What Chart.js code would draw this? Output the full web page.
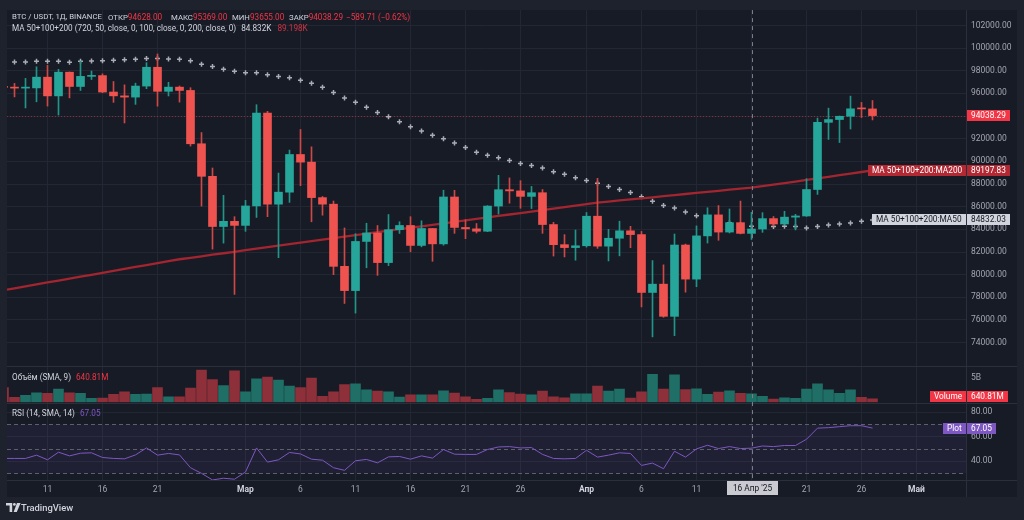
<!DOCTYPE html>
<html><head><meta charset="utf-8">
<script src="https://cdn.jsdelivr.net/npm/chart.js@4.4.1/dist/chart.umd.min.js"></script>
<style>
html,body{margin:0;padding:0;background:#1e222d;width:1024px;height:520px;overflow:hidden;}
#wrap{position:relative;width:1024px;height:520px;}
canvas{position:absolute;left:0;top:0;}
.t{position:absolute;font-family:Roboto,'Liberation Sans',sans-serif;font-size:8.2px;line-height:10px;white-space:nowrap;color:#d1d4dc;}
.s{font-size:7.8px}
.r{color:#f23645}
.m{color:#cf3340}
.p{color:#7e57c2}
.v{font-size:8.2px}
</style></head><body>
<div id="wrap"><canvas id="c" width="1024" height="520"></canvas>
<div class="t s" style="left:12px;top:12px">BTC / USDT, 1Д, BINANCE</div>
<div class="t s" style="left:108px;top:12px">ОТКР<span class="r v">94628.00</span></div>
<div class="t s" style="left:171px;top:12px">МАКС<span class="r v">95369.00</span></div>
<div class="t s" style="left:232px;top:12px">МИН<span class="r v">93655.00</span></div>
<div class="t s" style="left:289px;top:12px">ЗАКР<span class="r v">94038.29</span></div>
<div class="t r" style="left:346px;top:12px">−589.71 (−0.62%)</div>
<div class="t" style="left:12px;top:23px">MA 50+100+200 (720, 50, close, 0, 100, close, 0, 200, close, 0)<span style="margin-left:5px">84.832K</span><span class="m" style="margin-left:6px">89.198K</span></div>
<div class="t" style="left:12px;top:372px">Объём (SMA, 9)<span class="r" style="margin-left:5px">640.81M</span></div>
<div class="t" style="left:12px;top:408px">RSI (14, SMA, 14)<span class="p" style="margin-left:5px">67.05</span></div>
<svg style="position:absolute;left:6px;top:503px" width="15" height="10" viewBox="0 0 15 10"><path d="M0 0H6.2V9H3.6V2.6H0Z" fill="#d1d4dc"/><circle cx="8.4" cy="1.4" r="1.4" fill="#d1d4dc"/><path d="M11 0H14.6L10.8 9H7.6Z" fill="#d1d4dc"/></svg>
<div class="t" style="left:21px;top:503px;font-size:9.4px;font-weight:500">TradingView</div>
</div>
<script>
const firstDay = '2025-02-07';
const open  = [96550,96530,96465,96482,97430,95778,97869,96608,97500,97569,96118,95780,95671,96644,98305,96181,96551,96258,91552,88680,84250,84708,84349,86064,94270,86220,87281,90606,89931,86801,86222,80734,78595,82932,83680,81067,83969,84343,82580,84075,82718,86855,84167,84044,83832,86054,87498,87392,86909,87232,84424,82648,82390,82550,85159,82516,83214,83869,83538,78430,79163,76322,82615,79607,83423,85276,83760,84591,83643,84030,84947,84474,85077,85179,87516,93442,93691,93980,94638,94628];
const high  = [100137,96880,97323,98345,98478,98119,97888,98826,97972,97725,97046,96753,96899,98711,99475,96980,96650,96500,92540,89414,87000,85120,86558,95000,94416,88967,90998,92811,91283,86897,86500,84123,83617,84539,84336,85310,84672,85117,84756,84075,87453,87443,84850,84513,86094,88765,88540,88292,87786,87515,84624,83534,83943,85487,88500,83998,84720,84266,83817,81243,80867,83588,82700,84300,85905,86100,85799,86496,85500,85470,85132,85595,85320,88465,93817,94696,94000,95758,95199,95369];
const low   = [95620,95688,94713,95256,94876,94088,95603,96253,97223,96055,95205,93388,95029,96415,94871,95770,95227,91350,86050,82256,82786,78258,83824,85050,85117,81500,86379,87853,84667,85248,80000,77459,76606,80607,79939,80797,83639,82017,82457,81179,82600,83647,83175,83674,83794,85345,86310,85861,85837,83646,81644,81565,81279,82429,82320,81211,81659,82379,77153,74508,76239,74620,78456,78936,82792,83034,83678,83600,83111,83736,84303,84364,83949,85144,87084,91935,91660,92855,93870,93655];
const close = [96530,96465,96482,97430,95778,97869,96608,97500,97569,96118,95780,95671,96644,98305,96181,96551,96258,91552,88680,84250,84708,84349,86064,94270,86220,87281,90606,89931,86801,86222,80734,78595,82932,83680,81067,83969,84343,82580,84075,82718,86855,84167,84044,83832,86054,87498,87392,86909,87232,84424,82648,82390,82550,85159,82516,83214,83869,83538,78430,79163,76322,82615,79607,83423,85276,83760,84591,83643,84030,84947,84474,85077,85179,87516,93442,93691,93980,94638,94628,94038.29];
const volumeM = [3042,958,1375,1938,1792,2708,1938,1792,750,833,1583,2146,1583,1667,3042,1104,1104,2917,6729,4708,3458,6521,2146,4854,5208,4583,3333,3042,5000,1167,2146,3667,3813,2563,2292,2146,1042,1521,1521,1521,2354,1875,1104,542,750,2563,2000,1667,1521,2292,1104,896,1729,1729,3333,2292,2708,833,2146,5833,2708,5688,2625,2771,1583,2083,2354,1792,1729,1167,625,896,750,2708,3813,2563,1792,2563,958,640.81];
const ma50 = [98760,98773,98773,98826,98826,98826,98738,98826,98861,98887,98913,98975,99001,99088,99088,99036,99001,98887,98563,98362,98126,97951,97811,97811,97636,97487,97374,97164,96902,96551,96087,95589,95212,94775,94311,93926,93489,93052,92675,92299,92002,91626,91215,90795,90549,90313,90077,89814,89639,89412,89088,88852,88563,88301,88064,87776,87513,87251,86884,86490,86114,85878,85528,85195,84976,84758,84583,84425,84277,84250,84250,84277,84259,84128,84250,84390,84477,84565,84714,84832.03];
const ma200 = [78630,78800,78970,79140,79310,79480,79650,79820,79990,80160,80330,80510,80680,80850,81020,81190,81360,81490,81620,81760,81890,82020,82160,82290,82430,82560,82690,82830,82960,83090,83230,83360,83490,83620,83750,83880,84010,84140,84270,84400,84530,84660,84790,84920,85050,85180,85310,85440,85570,85700,85830,85960,86090,86220,86350,86450,86550,86640,86740,86830,86930,87020,87120,87210,87310,87400,87500,87590,87690,87820,87950,88080,88220,88360,88500,88640,88780,88920,89060,89197.83];
const rsi = [42.2,42.2,42.2,44.9,41.1,47.3,44.3,46.5,46.8,43.0,42.2,41.9,45.1,50.8,44.9,46.3,45.1,34.6,30.0,24.6,26.0,25.2,31.1,50.8,39.2,41.1,47.1,45.9,41.6,40.8,34.6,32.5,40.3,41.4,38.6,43.5,43.8,41.6,44.3,42.5,49.5,45.7,45.5,45.5,49.5,51.6,51.9,50.8,51.1,45.5,42.2,41.9,42.2,48.9,43.3,44.9,46.8,46.3,36.5,38.4,33.8,48.1,43.3,50.0,53.0,50.3,51.9,50.3,50.6,52.4,51.9,52.8,52.8,57.9,67.0,67.4,68.2,69.0,69.0,67.05];
const priceTicks = [74000,76000,78000,80000,82000,84000,86000,88000,90000,92000,94000,96000,98000,100000,102000];
const volTicks = [5000];
const rsiTicks = [40,60,80];
const rsiLevels = [70,50,30];
const xTickDates = ['2025-02-11','2025-02-16','2025-02-21','2025-03-01','2025-03-06','2025-03-11','2025-03-16','2025-03-21','2025-03-26','2025-04-01','2025-04-06','2025-04-11','2025-04-16','2025-04-21','2025-04-26','2025-05-01'];
const xTickLabels = ['11','16','21','Мар','6','11','16','21','26','Апр','6','11','16','21','26','Май'];
const monthLabels = ['Мар','Апр','Май'];
const crossDate = '2025-04-16';
const crossLabel = "16 Апр '25";

const UP = '#26a69a', DOWN = '#ef5350';
const GRID = '#232733', SEP = '#2b2f3b';
const FONT = "Roboto, 'Liberation Sans', sans-serif";
Chart.defaults.font.family = FONT;

function dayIndex(s){ return Math.round((Date.parse(s+'T00:00:00Z') - Date.parse(firstDay+'T00:00:00Z'))/86400000); }
const isUp = close.map((c,i)=> c >= open[i]);
const candleCol = isUp.map(u => u ? UP : DOWN);
const wickCol = isUp.map(u => u ? '#22958a' : '#cf4846');
const volCol = isUp.map(u => u ? '#1f6f66' : '#8d3039');
const lastIdx = close.length - 1;

function tagBox(ctx, left, yc, text, bg, fg, rightEdge){
  ctx.font = '8.3px ' + FONT;
  const w = Math.round(ctx.measureText(text).width + 8);
  const x = rightEdge ? left - w : left;
  ctx.fillStyle = bg; ctx.fillRect(x, Math.round(yc - 5.5), w, 11);
  ctx.fillStyle = fg; ctx.textBaseline = 'middle'; ctx.textAlign = 'left';
  ctx.fillText(text, x + 4, Math.round(yc - 5.5) + 5.8);
  return w;
}

const deco = {
  id: 'deco',
  beforeDraw(chart){
    const {ctx, chartArea: ca} = chart; const s = chart.scales;
    ctx.save();
    ctx.fillStyle = '#1e222d'; ctx.fillRect(0,0,chart.width,chart.height);
    ctx.fillStyle = '#171b26'; ctx.fillRect(ca.left, ca.top, s.yP.right - ca.left, s.x.bottom - ca.top);
    ctx.restore();
  },
  beforeDatasetsDraw(chart){
    const {ctx, chartArea: ca} = chart; const s = chart.scales;
    ctx.save();
    const y70 = s.yR.getPixelForValue(rsiLevels[0]), y30 = s.yR.getPixelForValue(rsiLevels[2]);
    ctx.fillStyle = 'rgba(126,87,194,0.09)';
    ctx.fillRect(ca.left, y70, ca.right - ca.left, y30 - y70);
    ctx.strokeStyle = '#5d606b'; ctx.lineWidth = 1; ctx.setLineDash([4,3]);
    rsiLevels.forEach(v => { const y = Math.round(s.yR.getPixelForValue(v)) + 0.5; ctx.beginPath(); ctx.moveTo(ca.left, y); ctx.lineTo(ca.right, y); ctx.stroke(); });
    const yc = Math.round(s.yP.getPixelForValue(close[lastIdx])) + 0.5;
    ctx.strokeStyle = 'rgba(242,54,69,0.5)'; ctx.setLineDash([1,2]);
    ctx.beginPath(); ctx.moveTo(ca.left, yc); ctx.lineTo(ca.right, yc); ctx.stroke();
    ctx.restore();
  },
  afterDraw(chart){
    const {ctx, chartArea: ca} = chart; const s = chart.scales;
    ctx.save();
    ctx.strokeStyle = SEP; ctx.lineWidth = 1; ctx.setLineDash([]);
    [s.yP.bottom, s.yV.bottom, s.yR.bottom].forEach(y => { const yy = Math.round(y) + 0.5; ctx.beginPath(); ctx.moveTo(ca.left, yy); ctx.lineTo(s.yP.right, yy); ctx.stroke(); });
    const xr = Math.round(ca.right) + 0.5;
    ctx.beginPath(); ctx.moveTo(xr, ca.top); ctx.lineTo(xr, s.x.bottom); ctx.stroke();
    const cx = Math.round(s.x.getPixelForValue(dayIndex(crossDate))) + 0.5;
    ctx.strokeStyle = '#7c7f89'; ctx.setLineDash([4,4]);
    ctx.beginPath(); ctx.moveTo(cx, ca.top); ctx.lineTo(cx, ca.bottom); ctx.stroke();
    ctx.setLineDash([]);
    ctx.font = '8.3px ' + FONT;
    const cw = Math.round(ctx.measureText(crossLabel).width + 12);
    ctx.fillStyle = '#c9cbd1'; ctx.fillRect(cx - cw/2, s.x.top + 1, cw, 14);
    ctx.fillStyle = '#131722'; ctx.textAlign = 'center'; ctx.textBaseline = 'middle';
    ctx.fillText(crossLabel, cx, s.x.top + 8.5);
    const ax = Math.round(ca.right) + 1;
    const nameR = Math.round(ca.right);
    const yPrice = s.yP.getPixelForValue(close[lastIdx]);
    tagBox(ctx, ax, yPrice, close[lastIdx].toFixed(2), '#f23645', '#ffffff');
    const y200 = s.yP.getPixelForValue(ma200[lastIdx]);
    tagBox(ctx, nameR, y200, 'MA 50+100+200:MA200', '#b22833', '#ffffff', true);
    tagBox(ctx, ax, y200, ma200[lastIdx].toFixed(2), '#b22833', '#ffffff');
    const y50 = s.yP.getPixelForValue(ma50[lastIdx]);
    tagBox(ctx, nameR, y50, 'MA 50+100+200:MA50', '#d1d4dc', '#131722', true);
    tagBox(ctx, ax, y50, ma50[lastIdx].toFixed(2), '#d1d4dc', '#131722');
    const yVol = Math.min(s.yV.getPixelForValue(volumeM[lastIdx]), s.yV.bottom - 6.5);
    tagBox(ctx, nameR, yVol, 'Volume', '#f23645', '#ffffff', true);
    tagBox(ctx, ax, yVol, volumeM[lastIdx].toFixed(2) + 'M', '#f23645', '#ffffff');
    const yRsi = s.yR.getPixelForValue(rsi[lastIdx]);
    tagBox(ctx, nameR, yRsi, 'Plot', '#7e57c2', '#ffffff', true);
    tagBox(ctx, ax, yRsi, rsi[lastIdx].toFixed(2), '#7e57c2', '#ffffff');
    ctx.restore();
  }
};

const pts = arr => arr.map((v,i) => ({x:i, y:v}));
const tickFont = {family: FONT, size: 8.5};

new Chart(document.getElementById('c'), {
  type: 'bar',
  data: {
    datasets: [
      {type:'bar', label:'body', data: open.map((o,i)=>({x:i, y:[o, close[i]]})), backgroundColor: candleCol, barThickness: 8, minBarLength: 1, grouped:false, xAxisID:'x', yAxisID:'yP', order:1},
      {type:'bar', label:'wick', data: low.map((l,i)=>({x:i, y:[l, high[i]]})), backgroundColor: wickCol, barThickness: 1, grouped:false, xAxisID:'x', yAxisID:'yP', order:2},
      {type:'line', label:'MA200', data: pts(ma200), borderColor:'#a3252f', borderWidth:2.3, pointRadius:0, tension:0, xAxisID:'x', yAxisID:'yP', order:5},
      {type:'line', label:'MA50', data: pts(ma50), showLine:false, pointStyle:'cross', pointRadius:2.5, pointBorderWidth:1.5, pointBorderColor:'#a9acb4', borderColor:'#a9acb4', xAxisID:'x', yAxisID:'yP', order:6},
      {type:'bar', label:'Volume', data: pts(volumeM), backgroundColor: volCol, barThickness: 10, grouped:false, xAxisID:'x', yAxisID:'yV', order:7},
      {type:'line', label:'RSI', data: pts(rsi), borderColor:'#7e57c2', borderWidth:1, pointRadius:0, tension:0, xAxisID:'x', yAxisID:'yR', order:8}
    ]
  },
  options: {
    responsive:false, animation:false, events:[],
    layout:{padding:{left:7, top:6, right:7, bottom:23}},
    plugins:{legend:{display:false}, tooltip:{enabled:false}},
    scales:{
      x:{type:'linear', position:'bottom', offset:false, min:0.31818, max:87.5,
        afterFit: s => { s.height = 17; },
        afterBuildTicks: s => { s.ticks = xTickDates.map(d => ({value: dayIndex(d)})); },
        ticks:{autoSkip:false, maxRotation:0, padding:5,
          callback:(v,i) => xTickLabels[i],
          color: c => monthLabels.includes(xTickLabels[c.index]) ? '#d1d4dc' : '#a3a6af',
          font: c => ({family:FONT, size:8.5, weight: monthLabels.includes(xTickLabels[c.index]) ? 'bold' : 'normal'})},
        grid:{color:GRID, drawTicks:false, offset:false}, border:{display:false}},
      yP:{type:'linear', position:'right', stack:'panes', stackWeight:359, min:71940, max:103349,
        afterFit: s => { s.width = 51; },
        afterBuildTicks: s => { s.ticks = priceTicks.map(v => ({value:v})); },
        ticks:{padding:5, color:'#a3a6af', font:tickFont, callback: v => Number(v).toFixed(2)},
        grid:{color:GRID, drawTicks:false}, border:{display:false}},
      yV:{type:'linear', position:'right', stack:'panes', stackWeight:37, min:-146, max:7563,
        afterFit: s => { s.width = 51; },
        afterBuildTicks: s => { s.ticks = volTicks.map(v => ({value:v})); },
        ticks:{padding:5, color:'#a3a6af', font:tickFont, callback: v => (v/1000) + 'B'},
        grid:{display:false, drawTicks:false}, border:{display:false}},
      yR:{type:'linear', position:'right', stack:'panes', stackWeight:78, min:24.56, max:87.85,
        afterFit: s => { s.width = 51; },
        afterBuildTicks: s => { s.ticks = rsiTicks.map(v => ({value:v})); },
        ticks:{padding:5, color:'#a3a6af', font:tickFont, callback: v => Number(v).toFixed(2)},
        grid:{color:GRID, drawTicks:false}, border:{display:false}}
    }
  },
  plugins:[deco]
});
</script>
</body></html>
